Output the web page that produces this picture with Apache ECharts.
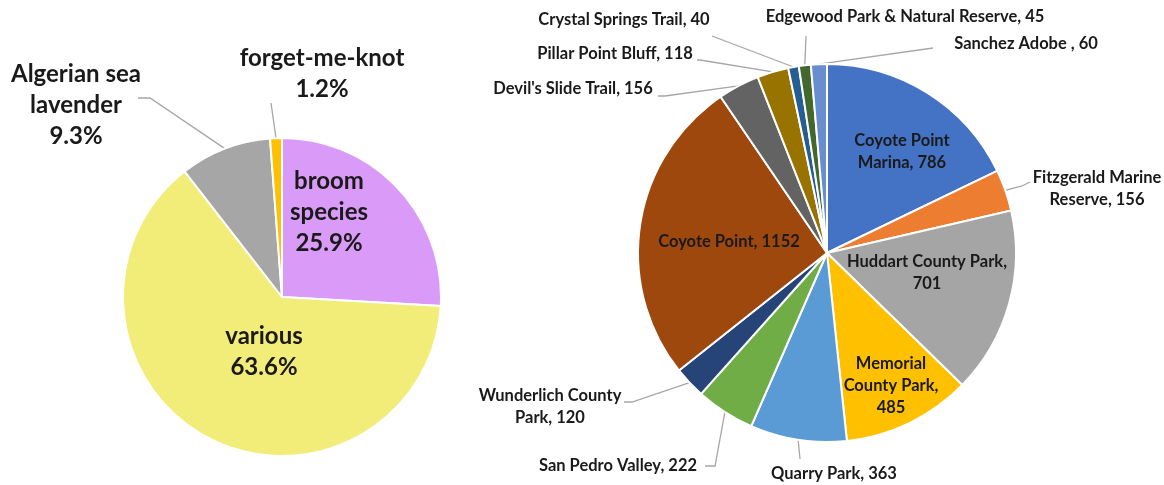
<!DOCTYPE html>
<html>
<head>
<meta charset="utf-8">
<script src="https://cdn.jsdelivr.net/npm/echarts@6/dist/echarts.min.js"></script>
<style>
  html, body { margin: 0; padding: 0; background: #fff; }
  #chart { width: 1164px; height: 485px; }
</style>
</head>
<body>
<div id="chart"></div>
<script>
// left pie: share of species (%)
const species = ['broom species', 'various', 'Algerian sea lavender', 'forget-me-knot'];
const speciesShare = [25.9, 63.6, 9.3, 1.2];
const speciesLabel = ['broom\nspecies', 'various', 'Algerian sea\nlavender', 'forget-me-knot'];
const speciesColors = ['#D99BF7', '#F2EC78', '#A6A6A6', '#FFC000'];

// right pie: counts per park
const parks = ['Coyote Point Marina', 'Fitzgerald Marine Reserve', 'Huddart County Park',
  'Memorial County Park', 'Quarry Park', 'San Pedro Valley', 'Wunderlich County Park',
  'Coyote Point', "Devil's Slide Trail", 'Pillar Point Bluff', 'Crystal Springs Trail',
  'Edgewood Park & Natural Reserve', 'Sanchez Adobe '];
const parkCounts = [786, 156, 701, 485, 363, 222, 120, 1152, 156, 118, 40, 45, 60];
const parkLabel = ['Coyote Point\nMarina, ', 'Fitzgerald Marine\nReserve, ', 'Huddart County Park,\n',
  'Memorial\nCounty Park,\n', 'Quarry Park, ', 'San Pedro Valley, ', 'Wunderlich County\nPark, ',
  'Coyote Point, ', "Devil's Slide Trail, ", 'Pillar Point Bluff, ', 'Crystal Springs Trail, ',
  'Edgewood Park & Natural Reserve, ', 'Sanchez Adobe , '];
const parkColors = ['#4472C4', '#ED7D31', '#A5A5A5', '#FFC000', '#5B9BD5', '#70AD47', '#264478',
  '#9E480E', '#636363', '#997300', '#255E91', '#43682B', '#698ED0'];

// label placement: [x, y, inside, tail points...]
const leftPlace = [
  [329, 212, true],
  [264, 352, true],
  [76, 105, false, [150, 98], [138, 98]],
  [322, 74, false, [271, 103]]
];
const rightPlace = [
  [902, 152, true],
  [1097, 189, false, [1022, 186], [1030, 182]],
  [927, 273, true],
  [891, 386, true],
  [834, 474, false, [800, 459]],
  [618, 466, false, [715, 466], [705, 466]],
  [550, 407, false, [632, 402], [624, 402]],
  [729, 242, true],
  [573, 89, false, [665, 96], [658, 96]],
  [615, 54, false, [700, 60], [697, 60]],
  [624, 20, false, [712, 36]],
  [905, 17, false, [806, 36]],
  [1026, 44, false, [933, 48]]
];

const chart = echarts.init(document.getElementById('chart'));

const makeLayout = (place) => (params) => {
  const p = place[params.dataIndex];
  const out = { x: p[0], y: p[1], align: 'center', verticalAlign: 'middle' };
  if (!p[2] && params.labelLinePoints) {
    out.labelLinePoints = [params.labelLinePoints[0]].concat(p.slice(3));
  }
  return out;
};

const option = {
  animation: false,
  series: [
    {
      type: 'pie',
      center: [282, 297],
      radius: 159,
      startAngle: 90,
      clockwise: true,
      avoidLabelOverlap: false,
      itemStyle: { borderColor: '#fff', borderWidth: 2 },
      label: {
        position: 'outside',
        fontFamily: 'Lato',
        fontWeight: 'bold',
        fontSize: 24,
        lineHeight: 31,
        color: '#1a1a1a',
        formatter: (p) => speciesLabel[p.dataIndex] + '\n' + p.value + '%'
      },
      labelLine: { show: true, length: 10, length2: 10, lineStyle: { color: '#A6A6A6', width: 1.3 } },
      labelLayout: makeLayout(leftPlace),
      data: species.map((n, i) => ({
        name: n,
        value: speciesShare[i],
        itemStyle: { color: speciesColors[i] },
        labelLine: { show: !leftPlace[i][2] }
      }))
    },
    {
      type: 'pie',
      center: [827, 253],
      radius: 189,
      startAngle: 90,
      clockwise: true,
      avoidLabelOverlap: false,
      itemStyle: { borderColor: '#fff', borderWidth: 2 },
      label: {
        position: 'outside',
        fontFamily: 'Lato',
        fontWeight: 'bold',
        fontSize: 16.5,
        lineHeight: 22,
        color: '#1a1a1a',
        formatter: (p) => parkLabel[p.dataIndex] + p.value
      },
      labelLine: { show: true, length: 10, length2: 10, lineStyle: { color: '#A6A6A6', width: 1.3 } },
      labelLayout: makeLayout(rightPlace),
      data: parks.map((n, i) => ({
        name: n,
        value: parkCounts[i],
        itemStyle: { color: parkColors[i] },
        labelLine: { show: !rightPlace[i][2] }
      }))
    }
  ]
};

chart.setOption(option);
</script>
</body>
</html>
